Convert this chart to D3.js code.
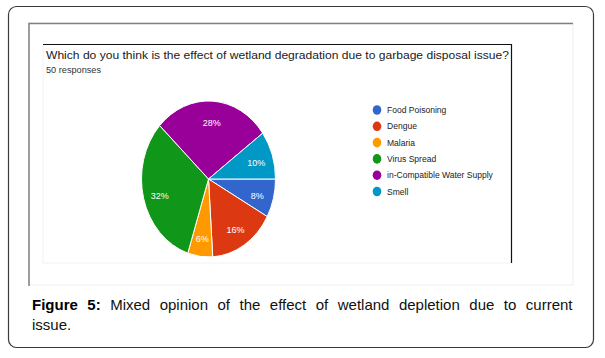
<!DOCTYPE html>
<html>
<head>
<meta charset="utf-8">
<script src="https://cdn.jsdelivr.net/npm/d3@7"></script>
<style>
  body { margin: 0; background: #fff; }
  text { font-family: Arial, "Liberation Sans", sans-serif; }
</style>
</head>
<body>
<div id="chart"></div>
<script>
// survey answers (50 responses)
const categories = ["Food Poisoning", "Dengue", "Malaria", "Virus Spread", "in-Compatible Water Supply", "Smell"]
const responses = [4, 8, 3, 16, 14, 5]
const colors = ["#3366cc", "#dc3912", "#ff9900", "#109618", "#990099", "#0099c6"]

const title = "Which do you think is the effect of wetland degradation due to garbage disposal issue?"
const subtitle = "50 responses"
const captionBold = "Figure 5:"
const captionText = "Mixed opinion of the effect of wetland depletion due to current issue."

var width = 605,
    height = 358;

var svg = d3.select("#chart")
    .append("svg")
    .attr("width", width)
    .attr("height", height);

// outer rounded box
svg.append("rect")
    .attr("x", 8.5).attr("y", 6.5)
    .attr("width", 585).attr("height", 341)
    .attr("rx", 8)
    .attr("fill", "#fff")
    .attr("stroke", "#3a3a3a")
    .attr("stroke-width", 1.2);

// gray screenshot frame
svg.append("rect")
    .attr("x", 29).attr("y", 23)
    .attr("width", 544).attr("height", 262)
    .attr("fill", "none")
    .attr("stroke", "#efefef");
svg.append("path")
    .attr("d", "M29,286 V23.5 H573")
    .attr("fill", "none")
    .attr("stroke", "#808080")
    .attr("stroke-width", 1.5);

// black screenshot box (top and right edges visible)
svg.append("path")
    .attr("d", "M43,263 V44.5 H511.5 V263 Z")
    .attr("fill", "none")
    .attr("stroke", "#f2f2f2");
svg.append("path")
    .attr("d", "M43,44.5 H511.5 V263")
    .attr("fill", "none")
    .attr("stroke", "#111")
    .attr("stroke-width", 1.2);

svg.append("text")
    .attr("x", 46).attr("y", 58.5)
    .attr("font-size", 11.5)
    .attr("fill", "#202124")
    .attr("textLength", 463)
    .attr("lengthAdjust", "spacingAndGlyphs")
    .text(title);

svg.append("text")
    .attr("x", 46).attr("y", 72.5)
    .attr("font-size", 9)
    .attr("fill", "#333")
    .attr("textLength", 55)
    .attr("lengthAdjust", "spacingAndGlyphs")
    .text(subtitle);

// pie (image is squeezed horizontally, so draw an ellipse)
var cx = 208.5, cy = 179, ry = 78, rx = 67;
var sx = rx / ry;
var total = d3.sum(responses);

var pie = d3.pie()
    .sort(null)
    .startAngle(Math.PI / 2)
    .endAngle(Math.PI / 2 + 2 * Math.PI);

var arc = d3.arc().innerRadius(0).outerRadius(ry);
var labelArc = d3.arc().innerRadius(ry * 0.75).outerRadius(ry * 0.75);

var slices = pie(responses);

svg.append("g")
    .attr("transform", `translate(${cx},${cy}) scale(${sx},1)`)
    .selectAll("path")
    .data(slices)
    .enter()
    .append("path")
    .attr("d", arc)
    .attr("fill", (d, i) => colors[i])
    .attr("stroke", "#fff")
    .attr("stroke-width", 1)
    .attr("vector-effect", "non-scaling-stroke");

svg.append("g")
    .selectAll("text")
    .data(slices)
    .enter()
    .append("text")
    .attr("x", d => cx + labelArc.centroid(d)[0] * sx)
    .attr("y", d => cy + labelArc.centroid(d)[1] + 2)
    .attr("text-anchor", "middle")
    .attr("dominant-baseline", "central")
    .attr("font-size", 9)
    .attr("fill", "#fff")
    .text(d => Math.round(d.value / total * 100) + "%");

// legend
var legend = svg.append("g")
    .attr("transform", "translate(377,110)")
    .selectAll("g")
    .data(categories)
    .enter()
    .append("g")
    .attr("transform", (d, i) => `translate(0,${i * 16.3})`);

legend.append("ellipse")
    .attr("rx", 4.3).attr("ry", 4.8)
    .attr("fill", (d, i) => colors[i]);

legend.append("text")
    .attr("transform", "translate(10,0) scale(0.9,1)")
    .attr("dominant-baseline", "central")
    .attr("font-size", 9.5)
    .attr("fill", "#222")
    .text(d => d);

// caption, justified over the first line
var capLeft = 32, capRight = 572.5;
var words = [captionBold.split(" "), captionText.split(" ")];
var items = [];
words[0].forEach(w => items.push({ w: w, bold: true }));
words[1].forEach(w => items.push({ w: w, bold: false }));
var firstLine = items.slice(0, items.length - 1);
var lastLine = items.slice(items.length - 1);

var cap = svg.append("g").attr("font-size", 15).attr("fill", "#111");
var nodes = cap.selectAll("text.w1")
    .data(firstLine)
    .enter()
    .append("text")
    .attr("class", "w1")
    .attr("y", 310)
    .attr("font-weight", d => d.bold ? "bold" : "normal")
    .attr("fill", d => d.bold ? "#000" : "#111")
    .text(d => d.w);

var widths = nodes.nodes().map(n => n.getComputedTextLength());
var gap = (capRight - capLeft - d3.sum(widths)) / (firstLine.length - 1);
var xPos = capLeft;
nodes.attr("x", (d, i) => {
    var x = xPos;
    xPos += widths[i] + gap;
    return x;
});

cap.selectAll("text.w2")
    .data(lastLine)
    .enter()
    .append("text")
    .attr("class", "w2")
    .attr("x", capLeft)
    .attr("y", 330)
    .text(d => d.w);
</script>
</body>
</html>
